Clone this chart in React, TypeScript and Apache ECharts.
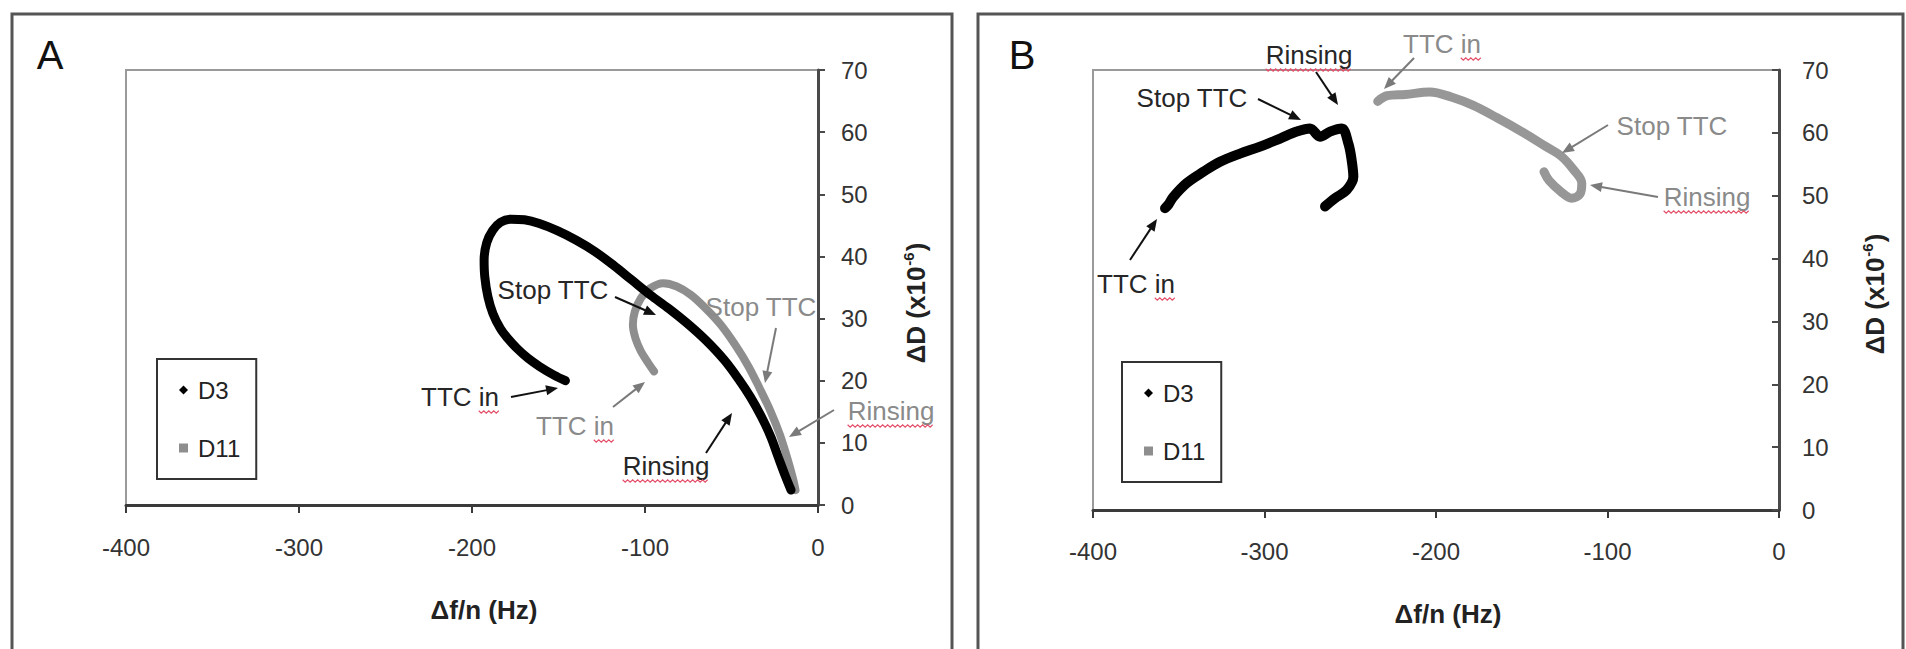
import React, { useEffect, useRef } from "react";
import * as echarts from "echarts";

// ---------- data ----------
const X_TICKS = [-400, -300, -200, -100, 0];
const Y_TICKS = [0, 10, 20, 30, 40, 50, 60, 70];
const SERIES_NAMES = ["D3", "D11"];
const PANEL_LABELS = ["A", "B"];
const X_TITLE = "Δf/n (Hz)";

// Panel A (Δf/n, ΔD)
const D3_A: [number, number][] = [
  [-146, 20], [-152.6, 20.9], [-161, 22.3], [-167.6, 23.6], [-174, 25.2], [-179.3, 26.8],
  [-183.6, 28.4], [-187.9, 30.8], [-190.8, 33.5], [-192.6, 36.7], [-193, 39.4], [-191.5, 42.2],
  [-188, 44.2], [-183.5, 45.5], [-177.5, 46.0], [-169.7, 45.9], [-161.1, 45.3], [-150.4, 44.1],
  [-139.7, 42.6], [-129, 40.8], [-118.3, 38.6], [-107.6, 36.2], [-96.9, 33.8], [-86.2, 31.6],
  [-75.5, 29.2], [-64.8, 26.5], [-54.1, 23.3], [-45.5, 20.1], [-39.1, 17.4], [-32.7, 14.2],
  [-27.3, 11], [-23.1, 7.8], [-18.8, 4.6], [-15.6, 2.4],
];
const D11_A: [number, number][] = [
  [-94.8, 21.5], [-98, 22.8], [-102.3, 24.7], [-105.5, 26.8], [-107, 29], [-105.9, 31.1],
  [-102.3, 33.3], [-96.9, 34.9], [-89.4, 35.7], [-81.9, 35.2], [-73.4, 33.8], [-64.8, 31.6],
  [-56.2, 29], [-47.7, 25.7], [-40.2, 22.3], [-33.8, 18.8], [-27.3, 15], [-22, 11.3],
  [-17.7, 7.5], [-14.5, 4.3], [-13, 2.4],
];
// Panel B
const D3_B: [number, number][] = [
  [-358, 48], [-356, 48.6], [-353.2, 49.8], [-345.4, 52], [-335.7, 53.8], [-325.9, 55.4],
  [-314.3, 56.7], [-302.6, 57.8], [-290.9, 59.1], [-281.2, 60.2], [-273.5, 60.7], [-267.6, 59.4],
  [-261.8, 60.2], [-255, 60.7], [-251.1, 58.3], [-249.2, 55.7], [-248.2, 53], [-252.1, 50.9],
  [-258.9, 49.6], [-264.7, 48.3],
];
const D11_B: [number, number][] = [
  [-234, 65], [-228.6, 65.9], [-217.9, 66.1], [-203.6, 66.5], [-191.1, 65.7], [-178.6, 64.4],
  [-164.4, 62.4], [-150.1, 60.2], [-135.8, 57.8], [-127, 56.3], [-120, 54.2], [-115, 52],
  [-116, 50.3], [-121, 49.6], [-127, 50.6], [-134, 52.4], [-137, 53.8],
];

// ---------- layout / style ----------
const FONT = "'Liberation Sans', Arial, Helvetica, sans-serif";
const BLACK = "#000";
const GRAY = "#8e8e8e";
const TXT_BLACK = "#262626";
const TXT_GRAY = "#8a8a8a";
const ANN_SIZE = 26;

type Ann = { text: string; x: number; y: number; gray: boolean; arrow: number[]; ul: "in" | "all" | null };
const ANNOTATIONS: Ann[] = [
  { text: "Stop TTC", x: 553, y: 290, gray: false, arrow: [615, 297, 656, 315], ul: null },
  { text: "Stop TTC", x: 761, y: 307, gray: true, arrow: [776, 328, 765, 383], ul: null },
  { text: "TTC in", x: 460, y: 397, gray: false, arrow: [511, 397, 558, 388], ul: "in" },
  { text: "TTC in", x: 575, y: 426, gray: true, arrow: [613, 407, 645, 382], ul: "in" },
  { text: "Rinsing", x: 666, y: 466, gray: false, arrow: [706, 453, 732, 413], ul: "all" },
  { text: "Rinsing", x: 891, y: 411, gray: true, arrow: [834, 410, 789, 437], ul: "all" },
  { text: "Rinsing", x: 1309, y: 55, gray: false, arrow: [1316, 72, 1338, 105], ul: "all" },
  { text: "Stop TTC", x: 1192, y: 98, gray: false, arrow: [1258, 99, 1301, 120], ul: null },
  { text: "TTC in", x: 1136, y: 284, gray: false, arrow: [1130, 260, 1157, 219], ul: "in" },
  { text: "TTC in", x: 1442, y: 44, gray: true, arrow: [1414, 58, 1384, 89], ul: "in" },
  { text: "Stop TTC", x: 1672, y: 126, gray: true, arrow: [1608, 125, 1562, 153], ul: null },
  { text: "Rinsing", x: 1707, y: 197, gray: true, arrow: [1658, 197, 1590, 185], ul: "all" },
];

let measureCtx: CanvasRenderingContext2D | null = null;
function measure(t: string, size: number, weight = "normal") {
  if (!measureCtx) measureCtx = document.createElement("canvas").getContext("2d");
  if (!measureCtx) return t.length * size * 0.5;
  measureCtx.font = `${weight} ${size}px ${FONT}`;
  return measureCtx.measureText(t).width;
}

function arrow(x1: number, y1: number, x2: number, y2: number, color: string) {
  const dx = x2 - x1, dy = y2 - y1;
  const L = Math.hypot(dx, dy);
  const ux = dx / L, uy = dy / L;
  const hl = 12, hw = 5;
  const bx = x2 - ux * hl, by = y2 - uy * hl;
  return [
    { type: "line", z: 100, silent: true, shape: { x1, y1, x2: bx + ux * 2, y2: by + uy * 2 }, style: { stroke: color, lineWidth: 2 } },
    {
      type: "polygon", z: 100, silent: true,
      shape: { points: [[x2, y2], [bx - uy * hw, by + ux * hw], [bx + uy * hw, by - ux * hw]] },
      style: { fill: color },
    },
  ];
}

function squiggle(x1: number, x2: number, y: number) {
  const pts: number[][] = [];
  let up = true;
  for (let x = x1; x <= x2; x += 2.5) {
    pts.push([x, y + (up ? -1.2 : 1.2)]);
    up = !up;
  }
  return { type: "polyline", z: 100, silent: true, shape: { points: pts }, style: { stroke: "#e4506a", lineWidth: 1.2, fill: null } };
}

function buildGraphics() {
  const g: any[] = [];
  g.push({ type: "rect", silent: true, z: -10, shape: { x: 12, y: 14, width: 940, height: 700 }, style: { fill: "none", stroke: "#555", lineWidth: 3 } });
  g.push({ type: "rect", silent: true, z: -10, shape: { x: 978, y: 14, width: 925, height: 700 }, style: { fill: "none", stroke: "#555", lineWidth: 3 } });
  [[50, 55], [1022, 55]].forEach(([x, y], i) =>
    g.push({ type: "text", x, y, silent: true, style: { text: PANEL_LABELS[i], fontSize: 40, fontFamily: FONT, fill: "#111", align: "center", verticalAlign: "middle" } })
  );
  [[484, 610], [1448, 614]].forEach(([x, y]) =>
    g.push({ type: "text", x, y, silent: true, style: { text: X_TITLE, fontSize: 26, fontWeight: "bold", fontFamily: FONT, fill: "#222", align: "center", verticalAlign: "middle" } })
  );
  [[916, 303], [1875, 294]].forEach(([x, y]) =>
    g.push({
      type: "text", x, y, rotation: Math.PI / 2, silent: true,
      style: {
        text: "{a|ΔD (x10}{b|-6}{a|)}",
        fontFamily: FONT, align: "center", verticalAlign: "middle",
        rich: {
          a: { fontSize: 26, fontWeight: "bold", fontFamily: FONT, fill: "#222", lineHeight: 30 },
          b: { fontSize: 15, fontWeight: "bold", fontFamily: FONT, fill: "#222", verticalAlign: "top", lineHeight: 30, padding: [0, 1, 10, 1] },
        },
      },
    })
  );
  ANNOTATIONS.forEach((a) => {
    const color = a.gray ? TXT_GRAY : TXT_BLACK;
    g.push({ type: "text", x: a.x, y: a.y, z: 100, silent: true, style: { text: a.text, fontSize: ANN_SIZE, fontFamily: FONT, fill: color, align: "center", verticalAlign: "middle" } });
    g.push(...arrow(a.arrow[0], a.arrow[1], a.arrow[2], a.arrow[3], a.gray ? "#7a7a7a" : "#111"));
    if (a.ul) {
      const w = measure(a.text, ANN_SIZE);
      const right = a.x + w / 2;
      const left = a.ul === "all" ? a.x - w / 2 : right - measure("in", ANN_SIZE);
      g.push(squiggle(left, right, a.y + 15));
    }
  });
  return g;
}

function xAxisCfg(gridIndex: number, margin: number) {
  return {
    type: "value", gridIndex, position: "bottom",
    min: X_TICKS[0], max: X_TICKS[X_TICKS.length - 1], interval: X_TICKS[1] - X_TICKS[0],
    axisLine: { show: true, onZero: false, lineStyle: { color: "#3a3a3a", width: 3 } },
    axisTick: { show: true, inside: false, length: 8, lineStyle: { color: "#3a3a3a", width: 2 } },
    axisLabel: { fontSize: 24, color: "#333", fontFamily: FONT, margin },
    splitLine: { show: false },
  };
}
function yAxisCfg(gridIndex: number, inside: boolean) {
  return {
    type: "value", gridIndex, position: "right",
    min: Y_TICKS[0], max: Y_TICKS[Y_TICKS.length - 1], interval: Y_TICKS[1] - Y_TICKS[0],
    axisLine: { show: true, onZero: false, lineStyle: { color: "#4a4a4a", width: 3 } },
    axisTick: { show: true, inside, length: 7, lineStyle: { color: "#4a4a4a", width: 2 } },
    axisLabel: { fontSize: 24, color: "#333", fontFamily: FONT, margin: 23 },
    splitLine: { show: false },
  };
}
function legendCfg(left: number, top: number) {
  return {
    left, top, orient: "vertical", selectedMode: false,
    data: [{ name: SERIES_NAMES[0], icon: "diamond" }, { name: SERIES_NAMES[1], icon: "rect" }],
    itemWidth: 9, itemHeight: 9, itemGap: 34,
    padding: [19, 16, 19, 22],
    borderColor: "#333", borderWidth: 2, backgroundColor: "#fff",
    itemStyle: { borderWidth: 0 },
    textStyle: { fontSize: 24, color: "#222", fontFamily: FONT, padding: [0, 0, 0, 5] },
  };
}
function lineSeries(name: string, data: [number, number][], idx: number, color: string, width: number, z: number) {
  return {
    type: "line", name, data, xAxisIndex: idx, yAxisIndex: idx,
    showSymbol: false, symbol: "circle", smooth: 0.35, z,
    itemStyle: { color },
    lineStyle: { color, width, cap: "round", join: "round" },
    emphasis: { disabled: true },
  };
}

export default function App() {
  const ref = useRef<HTMLDivElement>(null);
  useEffect(() => {
    if (!ref.current) return;
    const chart = echarts.init(ref.current, undefined, { renderer: "svg" });
    chart.setOption({
      animation: false,
      backgroundColor: "#fff",
      grid: [
        { left: 126, top: 70, width: 692, height: 435, show: true, borderColor: "#9a9a9a", borderWidth: 2, backgroundColor: "#fff" },
        { left: 1093, top: 70, width: 686, height: 440, show: true, borderColor: "#9a9a9a", borderWidth: 2, backgroundColor: "#fff" },
      ],
      xAxis: [xAxisCfg(0, 30), xAxisCfg(1, 29)],
      yAxis: [yAxisCfg(0, false), yAxisCfg(1, true)],
      legend: [legendCfg(157, 359), legendCfg(1122, 362)],
      series: [
        lineSeries(SERIES_NAMES[1], D11_A, 0, GRAY, 8, 2),
        lineSeries(SERIES_NAMES[0], D3_A, 0, BLACK, 9, 3),
        lineSeries(SERIES_NAMES[1], D11_B, 1, "#979797", 9, 2),
        lineSeries(SERIES_NAMES[0], D3_B, 1, BLACK, 10, 3),
      ],
      graphic: buildGraphics(),
    });
    return () => chart.dispose();
  }, []);
  return <div ref={ref} style={{ position: "fixed", left: 0, top: 0, width: 1906, height: 649, background: "#fff" }} />;
}
